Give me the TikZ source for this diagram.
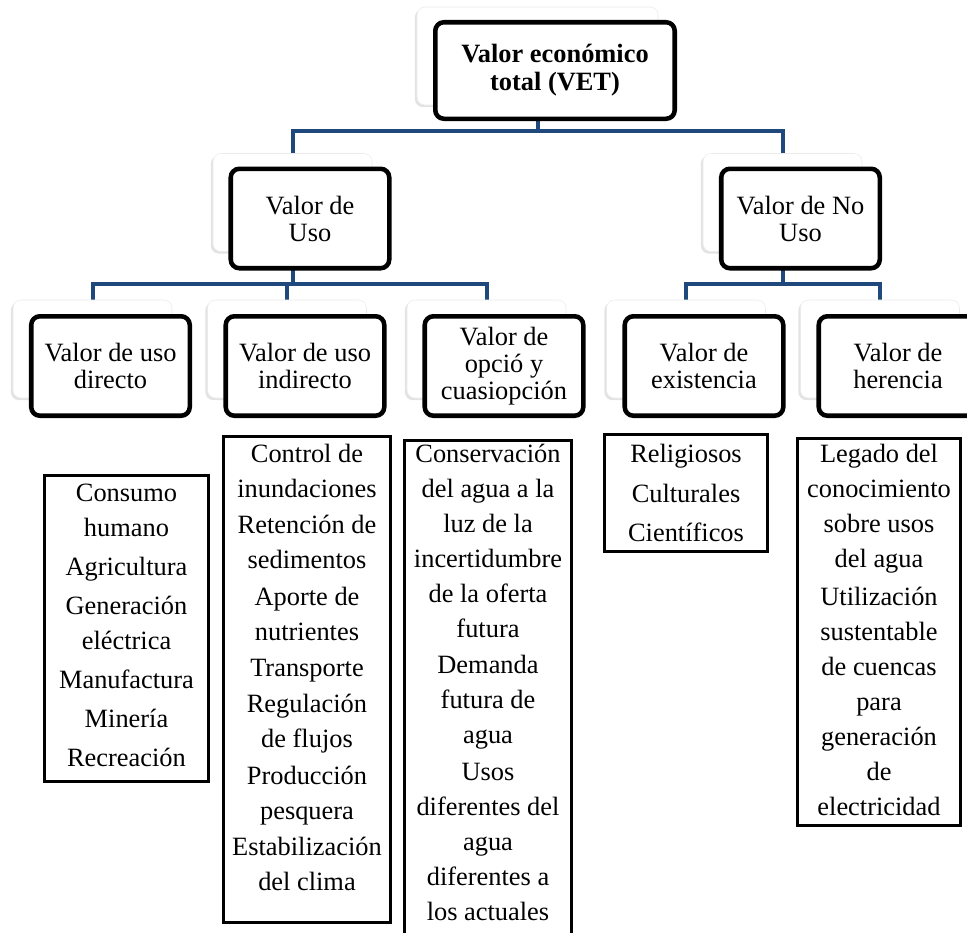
\documentclass[tikz,border=0pt]{standalone}
\usepackage{fontspec}
\setmainfont{Liberation Serif}
\usetikzlibrary{shadows}
\pgfdeclarelayer{background}
\pgfsetlayers{background,main}
\definecolor{connblue}{RGB}{31,73,125}
\begin{document}
\begin{tikzpicture}[x=0.75pt,y=-0.75pt,
  sbox/.style={draw=black!8, fill=white, rounded corners=6pt,
    minimum width=119.25pt, minimum height=73.5pt, inner sep=0pt,
    drop shadow={opacity=0.22, shadow xshift=-1.6pt, shadow yshift=-1.6pt}},
  bbox/.style={draw=black, line width=3.4pt, fill=white, rounded corners=6.5pt,
    minimum width=118.9pt, minimum height=74.6pt, inner sep=0pt, align=center,
    font=\fontsize{19.8pt}{20.3pt}\selectfont},
  lbox/.style={draw=black, line width=2pt, inner sep=0pt},
  ltext/.style={align=center, anchor=north, inner sep=0pt,
    font=\fontsize{19.8pt}{26.25pt}\selectfont},
  conn/.style={draw=connblue, line width=3pt, line join=miter}]
\useasboundingbox (0,0) rectangle (967,932);

% level 1
\node[sbox, minimum width=180.75pt] (topS) at (537.5,56) {};
\node[bbox, minimum width=179.6pt, minimum height=72.4pt, font=\fontsize{19.8pt}{20.8pt}\selectfont\bfseries]
  (top) at (555,70.5) {Valor económico\\total (VET)};

% level 2
\node[sbox] (usoS) at (292.5,202.5) {};
\node[bbox] (uso) at (310,218.5) {Valor de\\Uso};
\node[sbox] (nousoS) at (782.5,202.5) {};
\node[bbox] (nouso) at (800.5,218.5) {Valor de No\\Uso};

% level 3
\node[sbox] (dirS) at (92.5,349) {};
\node[bbox] (dir) at (110.5,366) {Valor de uso\\directo};
\node[sbox] (indS) at (287,349) {};
\node[bbox] (ind) at (305,366) {Valor de uso\\indirecto};
\node[sbox] (opcS) at (486.5,349) {};
\node[bbox] (opc) at (504,366) {Valor de\\opció y\\cuasiopción};
\node[sbox] (exiS) at (686,349) {};
\node[bbox] (exi) at (704,366) {Valor de\\existencia};
\node[sbox] (herS) at (880,349) {};
\node[bbox] (her) at (898,366) {Valor de\\herencia};

% list boxes
\node[lbox, minimum width=123.2pt, minimum height=229.7pt] (dirL) at (126.5,628.5) {};
\node[ltext] (dirT) at (126.5,484) {Consumo\\humano\\[3pt]Agricultura\\[3pt]Generación\\eléctrica\\[3pt]Manufactura\\[3pt]Minería\\[3pt]Recreación};

\node[lbox, minimum width=125.5pt, minimum height=364.7pt] (indL) at (307,679.5) {};
\node[ltext] (indT) at (307,444) {Control de\\inundaciones\\[1pt]Retención de\\sedimentos\\[1pt]Aporte de\\nutrientes\\[1pt]Transporte\\[1pt]Regulación\\de flujos\\[1pt]Producción\\pesquera\\[1pt]Estabilización\\del clima};

\node[lbox, minimum width=125.5pt, minimum height=377.5pt] (opcL) at (488,692) {};
\node[ltext] (opcT) at (488,444) {Conservación\\del agua a la\\luz de la\\incertidumbre\\de la oferta\\futura\\[1pt]Demanda\\futura de\\agua\\[1pt]Usos\\diferentes del\\agua\\diferentes a\\los actuales};

\node[lbox, minimum width=122.5pt, minimum height=88pt] (exiL) at (686,493) {};
\node[ltext] (exiT) at (686,444) {Religiosos\\[3.4pt]Culturales\\[3.4pt]Científicos};

\node[lbox, minimum width=122.5pt, minimum height=290.5pt] (herL) at (879,632) {};
\node[ltext] (herT) at (879,444) {Legado del\\conocimiento\\sobre usos\\del agua\\[2.2pt]Utilización\\sustentable\\de cuencas\\para\\generación\\de\\electricidad};

% connectors
\begin{pgfonlayer}{background}
\draw[conn] (topS.south) -- ++(0,26) -| (usoS.north);
\draw[conn] (topS.south) -- ++(0,26) -| (nousoS.north);
\draw[conn] (usoS.south) -- ++(0,32) -| (dirS.north);
\draw[conn] (usoS.south) -- ++(0,32) -| (indS.north);
\draw[conn] (usoS.south) -- ++(0,32) -| (opcS.north);
\draw[conn] (nousoS.south) -- ++(0,32) -| (exiS.north);
\draw[conn] (nousoS.south) -- ++(0,32) -| (herS.north);
\end{pgfonlayer}
\end{tikzpicture}
\end{document}
